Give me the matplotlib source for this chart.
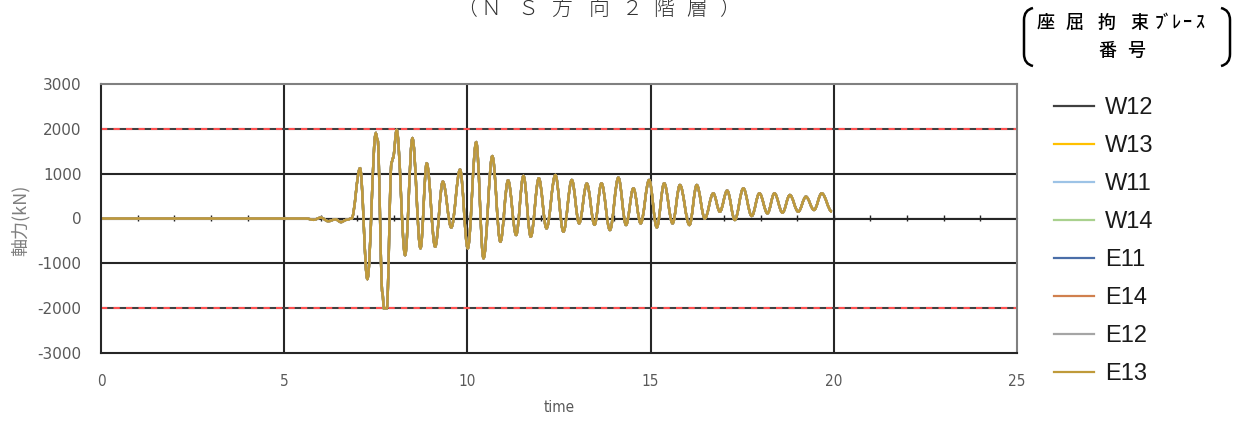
import matplotlib
matplotlib.use("Agg")
import matplotlib.pyplot as plt
from matplotlib.path import Path
from matplotlib.patches import PathPatch
from matplotlib.lines import Line2D

plt.rcParams['font.family'] = ['DejaVu Sans', 'Noto Sans CJK JP']
plt.rcParams['axes.unicode_minus'] = False

# ---------------- data (extrema) ----------------
time_s = [0.0, 5.6, 5.8, 6.0, 6.2, 6.4, 6.55, 6.7, 6.84, 7.07, 7.27, 7.50, 7.55,
          7.68, 7.72, 7.80, 7.93, 7.97, 8.07, 8.30, 8.50, 8.72, 8.89, 9.12, 9.33,
          9.56, 9.80, 10.01, 10.24, 10.44, 10.68, 10.90, 11.11, 11.33, 11.53,
          11.73, 11.95, 12.16, 12.40, 12.62, 12.85, 13.05, 13.26, 13.47, 13.66,
          13.89, 14.12, 14.33, 14.53, 14.73, 14.96, 15.17, 15.37, 15.60, 15.80,
          16.06, 16.26, 16.48, 16.71, 16.89, 17.09, 17.30, 17.53, 17.76, 17.97,
          18.19, 18.38, 18.60, 18.80, 19.03, 19.24, 19.46, 19.67, 19.95]
axial_kN = [0, 0, -30, 20, -60, -20, -80, -30, 0, 1120, -1350, 1900, 1750,
            -1650, -2000, -2000, 1250, 1350, 1975, -815, 1790, -665, 1230, -628, 822,
            -200, 1090, -665, 1700, -888, 1390, -517, 850, -368, 950,
            -405, 896, -219, 970, -294, 859, -108, 780, -140, 785,
            -257, 911, -145, 673, -108, 859, -197, 785, -108, 747,
            -145, 747, 0, 562, 152, 621, -33, 673, 56, 562,
            116, 562, 130, 524, 152, 486, 190, 562, 150]

series_names = ['W12', 'W13', 'W11', 'W14', 'E11', 'E14', 'E12', 'E13']
series_colors = ['#404040', '#FFC000', '#9DC3E6', '#A9D18E', '#4A6EA8', '#D0804E', '#A5A5A5', '#BF9A3A']

limit_kN = [2000, -2000]
y_ticks = [-3000, -2000, -1000, 0, 1000, 2000, 3000]
x_ticks = [0, 5, 10, 15, 20, 25]
title_chars = ['（', 'Ｎ', 'Ｓ', '方', '向', '２', '階', '層', '）']
legend_title_line1 = ['座', '屈', '拘', '束', 'ﾌﾞ', 'ﾚ', 'ｰ', 'ｽ']
legend_title_line2 = ['番', '号']

# ---------------- figure ----------------
W, H = 1244, 421
fig = plt.figure(figsize=(W / 100, H / 100), dpi=100)
ax = fig.add_axes([101 / W, 1 - 353 / H, (1017 - 101) / W, (353 - 84) / H])

gridc = '#262626'
for x in [5, 10, 15, 20]:
    ax.axvline(x, color=gridc, lw=1.5, zorder=1)
for y in [-1000, 0, 1000]:
    ax.axhline(y, color=gridc, lw=1.5, zorder=1)
for y in limit_kN:
    ax.axhline(y, color='#404040', lw=1.5, zorder=1)
    ax.axhline(y, color='#FF5050', lw=1.5, ls=(0, (3, 3)), zorder=1.1)


def smooth_path(ts, vs):
    """Smooth curve through the read extrema (horizontal tangents at each point)."""
    verts = [(ts[0], vs[0])]
    codes = [Path.MOVETO]
    for i in range(1, len(ts)):
        dt = ts[i] - ts[i - 1]
        verts += [(ts[i - 1] + 0.36 * dt, vs[i - 1]),
                  (ts[i] - 0.36 * dt, vs[i]),
                  (ts[i], vs[i])]
        codes += [Path.CURVE4, Path.CURVE4, Path.CURVE4]
    return Path(verts, codes)


handles = []
for name, col in zip(series_names, series_colors):
    ax.add_patch(PathPatch(smooth_path(time_s, axial_kN), fill=False,
                           edgecolor=col, lw=1.7, zorder=2))
    handles.append(Line2D([], [], color=col, lw=1.6, label=name))

ax.set_xlim(0, 25)
ax.set_ylim(-3000, 3000)
ax.set_xticks(x_ticks)
ax.set_yticks(y_ticks)
ax.tick_params(axis='both', length=0, colors='#595959')
ax.tick_params(axis='y', pad=14, labelsize=11)
ax.tick_params(axis='x', pad=15)
for lab in ax.get_xticklabels():
    lab.set_fontstretch('condensed')
    lab.set_fontsize(11)
for sp in ['left', 'bottom']:
    ax.spines[sp].set_color('#262626')
    ax.spines[sp].set_linewidth(1.5)
for sp in ['top', 'right']:
    ax.spines[sp].set_color('#808080')
    ax.spines[sp].set_linewidth(1.5)

# minor tick marks on the zero line
sec = ax.secondary_xaxis(0.5)
sec.set_xticks(range(1, 25))
sec.tick_params(direction='inout', length=5, width=1, color='#262626', labelbottom=False)
sec.set_xticklabels([])
sec.spines['bottom'].set_visible(False)

ax.set_xlabel('time', color='#595959', fontsize=11, fontstretch='condensed', labelpad=8)
fig.text(20 / W, 1 - 220 / H, '軸力(kN)', rotation=90, ha='center', va='center',
         color='#7f7f7f', fontsize=13, family=['Noto Sans CJK JP', 'DejaVu Sans'])

# title (top of page)
title_x = [467, 491, 528, 562, 599, 632, 664, 697, 730]
for ch, x in zip(title_chars, title_x):
    fig.text(x / W, 1 - 9 / H, ch, ha='center', va='center', fontsize=15,
             color='#333333', family=['Noto Sans CJK JP'], fontweight='light')

# legend heading with brackets
l1x = [1046, 1075, 1107, 1139, 1164, 1176, 1187, 1200]
for ch, x in zip(legend_title_line1, l1x):
    fig.text(x / W, 1 - 23 / H, ch, ha='center', va='center', fontsize=13,
             color='black', family=['Noto Sans CJK JP'], fontweight='medium')
l2x = [1107, 1136]
for ch, x in zip(legend_title_line2, l2x):
    fig.text(x / W, 1 - 51 / H, ch, ha='center', va='center', fontsize=13,
             color='black', family=['Noto Sans CJK JP'], fontweight='medium')


def bracket(x_edge, x_mid, y0, y1):
    verts = [(x_mid, y0), (x_edge, y0 + 2), (x_edge, y0 + 12),
             (x_edge, y1 - 12), (x_edge, y1 - 2), (x_mid, y1)]
    codes = [Path.MOVETO, Path.CURVE3, Path.CURVE3, Path.LINETO, Path.CURVE3, Path.CURVE3]
    verts = [(vx / W, 1 - vy / H) for vx, vy in verts]
    fig.patches.append(PathPatch(Path(verts, codes), fill=False, lw=1.8,
                                 edgecolor='black', transform=fig.transFigure))


bracket(1024, 1033, 8, 66)
bracket(1230, 1221, 8, 66)

leg = fig.legend(handles=handles, loc='upper left',
                 bbox_to_anchor=(1054 / W, 1 - 97 / H), frameon=False,
                 prop={'family': 'Liberation Sans', 'size': 17},
                 handlelength=1.7, handletextpad=0.45, labelspacing=0.68,
                 borderpad=0, borderaxespad=0)
for t in leg.get_texts():
    t.set_color('#1a1a1a')

fig.savefig('out.png', dpi=100)
